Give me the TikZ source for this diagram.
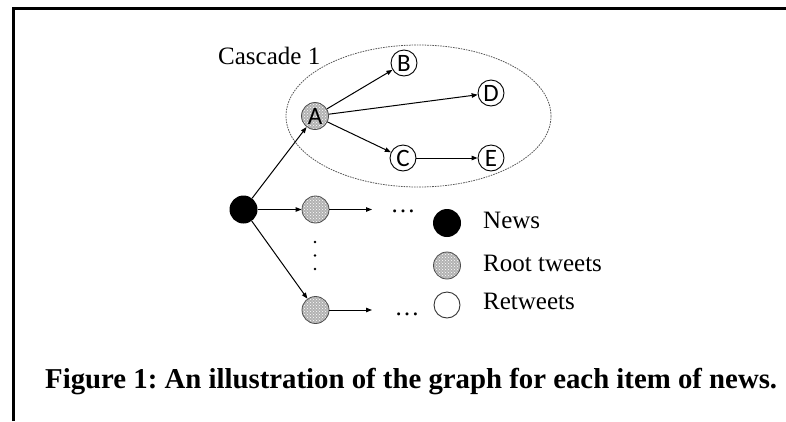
\documentclass[tikz,border=0pt]{standalone}
\usepackage{fontspec}
\usepackage{graphicx}
\setmainfont{Liberation Serif}
\newfontfamily\lettersf{Carlito}
\usetikzlibrary{arrows.meta,patterns}
\frenchspacing
\begin{document}
\begin{tikzpicture}[x=1pt,y=-1pt,
  every node/.style={inner sep=0pt},
  newsnode/.style={circle,fill=black,minimum size=28pt},
  rootnode/.style={circle,draw=gray!60!black,line width=0.8pt,minimum size=27pt,
    preaction={fill=gray!60},pattern=crosshatch dots,pattern color=white,
    font=\lettersf\fontsize{25}{25}\selectfont},
  retweet/.style={circle,draw=black,line width=0.9pt,fill=white,minimum size=26pt,
    font=\lettersf\fontsize{25}{25}\selectfont},
  edgearrow/.style={-{Triangle[length=6pt,width=4.5pt]},line width=1pt},
  legendtext/.style={anchor=base west,font=\fontsize{25}{25}\selectfont},
  dotstext/.style={anchor=base,font=\fontsize{25}{25}\selectfont},
]
\useasboundingbox (0,0) rectangle (786,421);

% frame
\draw[line width=3pt] (13.5,421) -- (13.5,8) -- (786,8);

% cascade outline
\draw[gray!70!black,line width=0.8pt,dash pattern=on 1.6pt off 1pt]
  (418.5,116) ellipse [x radius=132.5, y radius=71];
\node[legendtext] (cascadelabel) at (218,64) {Cascade 1};

% graph nodes
\node[newsnode] (news) at (243.5,209.5) {};
\node[rootnode] (A) at (315,116) {A};
\node[retweet] (B) at (404,63) {B};
\node[retweet] (D) at (491,93) {D};
\node[retweet] (C) at (403,158) {C};
\node[retweet] (E) at (491,158) {E};
\node[rootnode] (r1) at (315.5,209.5) {};
\node[rootnode] (r2) at (315.5,310) {};
\coordinate (r1end) at (372,209.5);
\coordinate (r2end) at (372,310);

% connectors
\draw[edgearrow] (news) -- (A);
\draw[edgearrow] (news) -- (r1);
\draw[edgearrow] (news) -- (r2);
\draw[edgearrow] (A) -- (B);
\draw[edgearrow] (A) -- (D);
\draw[edgearrow] (A) -- (C);
\draw[edgearrow] (C) -- (E);
\draw[edgearrow] (r1) -- (r1end);
\draw[edgearrow] (r2) -- (r2end);

% ellipses
\node[dotstext] (dots1) at (403,212) {\dots};
\node[dotstext] (dots2) at (407,315) {\dots};
\foreach \yy in {242,255.5,269} \fill (315,\yy) circle [radius=1.4];

% legend
\node[newsnode] (lnews) at (447,223) {};
\node[rootnode] (lroot) at (447,265.5) {};
\node[retweet,draw=gray!40!black] (lret) at (447,305) {};
\node[legendtext] (tnews) at (483,228) {News};
\node[legendtext] (troot) at (483,271) {Root tweets};
\node[legendtext] (tret) at (483,309) {Retweets};

% caption
\node[anchor=base west] (caption) at (45,388)
  {\resizebox{732pt}{!}{\fontsize{26}{26}\selectfont\bfseries Figure 1: An illustration of the graph for each item of news.}};
\end{tikzpicture}
\end{document}
